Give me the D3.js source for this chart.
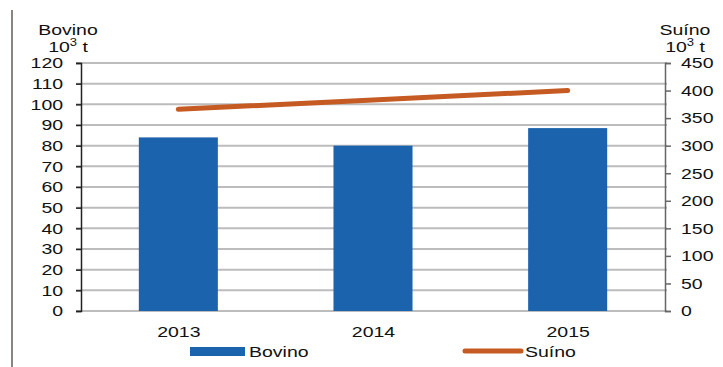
<!DOCTYPE html>
<html>
<head>
<meta charset="utf-8">
<script src="https://cdn.jsdelivr.net/npm/d3@7"></script>
<style>
  body { margin: 0; background: #fff; }
  text { font-family: "Liberation Sans", Arial, sans-serif; fill: #111; }
</style>
</head>
<body>
<div id="chart"></div>
<script>
var width = 723, height = 367;

var years = ["2013", "2014", "2015"];
var bovino = [84, 80, 88.5];
var suino = [366, 383, 400];
var leftTicks = [0, 10, 20, 30, 40, 50, 60, 70, 80, 90, 100, 110, 120];
var rightTicks = [0, 50, 100, 150, 200, 250, 300, 350, 400, 450];

var plotLeft = 81, plotRight = 665, plotTop = 63, plotBottom = 311;
var sx = 1.3; // text in the picture is stretched sideways

var svg = d3.select("#chart").append("svg")
    .attr("width", width)
    .attr("height", height);

// frame line at left
svg.append("line")
    .attr("x1", 12).attr("x2", 12)
    .attr("y1", 10).attr("y2", height)
    .attr("stroke", "#8a8580").attr("stroke-width", 2);

var xScale = d3.scaleBand()
    .domain(years)
    .range([plotLeft, plotRight])
    .paddingInner(0.594)
    .paddingOuter(0.297);

var xPoint = d3.scalePoint()
    .domain(years)
    .range([plotLeft, plotRight])
    .padding(0.5);

var yLeft = d3.scaleLinear().domain([0, 120]).range([plotBottom, plotTop]);
var yRight = d3.scaleLinear().domain([0, 450]).range([plotBottom, plotTop]);

// gridlines
svg.append("g")
    .selectAll("line")
    .data(leftTicks)
    .enter()
    .append("line")
    .attr("x1", plotLeft - 5).attr("x2", plotRight + 2)
    .attr("y1", function(d) { return yLeft(d); })
    .attr("y2", function(d) { return yLeft(d); })
    .attr("stroke", "#bcbcbc").attr("stroke-width", 2);

// bars
svg.selectAll("rect.bar")
    .data(bovino)
    .enter()
    .append("rect")
    .attr("class", "bar")
    .attr("x", function(d, i) { return xScale(years[i]); })
    .attr("y", function(d) { return yLeft(d); })
    .attr("width", xScale.bandwidth())
    .attr("height", function(d) { return plotBottom - yLeft(d); })
    .attr("fill", "#1b63ad");

// line
var valueLine = d3.line()
    .x(function(d, i) { return xPoint(years[i]); })
    .y(function(d) { return yRight(d); });

svg.append("path")
    .attr("d", valueLine(suino))
    .attr("fill", "none")
    .attr("stroke", "#c55a22")
    .attr("stroke-width", 5)
    .attr("stroke-linecap", "round");

// axes
var axL = svg.append("g")
    .attr("transform", "translate(" + plotLeft + ",0)")
    .call(d3.axisLeft(yLeft).tickValues(leftTicks).tickSize(5).tickPadding(8.8));

var axR = svg.append("g")
    .attr("transform", "translate(" + plotRight + ",0)")
    .call(d3.axisRight(yRight).tickValues(rightTicks).tickSize(6).tickPadding(6.3));

var axB = svg.append("g")
    .attr("transform", "translate(0," + plotBottom + ")")
    .call(d3.axisBottom(xPoint).tickSize(0).tickPadding(15));
axB.select(".domain").remove();

[axL, axR, axB].forEach(function(a) {
  a.selectAll("text").attr("font-size", 15).attr("fill", "#111")
    .attr("transform", "scale(" + sx + ",1)")
    .style("font-family", "'Liberation Sans', Arial, sans-serif");
});
axL.selectAll(".domain, .tick line").attr("stroke", "#222").attr("stroke-width", 1.5);
axR.selectAll(".domain, .tick line").attr("stroke", "#666").attr("stroke-width", 1.5);

function label(x, y, anchor) {
  return svg.append("text")
      .attr("transform", "translate(" + x + "," + y + ") scale(" + sx + ",1)")
      .attr("text-anchor", anchor)
      .attr("font-size", 15);
}

// axis titles
function unitTitle(x, name) {
  label(x, 35, "middle").text(name);
  var t = label(x, 52, "middle");
  t.append("tspan").text("10");
  t.append("tspan").attr("font-size", 10).attr("dy", -6).text("3");
  t.append("tspan").attr("dy", 6).text(" t");
}
unitTitle(68, "Bovino");
unitTitle(685, "Suíno");

// legend
svg.append("rect")
    .attr("x", 190).attr("y", 347).attr("width", 55).attr("height", 9)
    .attr("fill", "#1b63ad");
label(249, 357, "start").text("Bovino");

svg.append("line")
    .attr("x1", 465).attr("x2", 521).attr("y1", 351).attr("y2", 351)
    .attr("stroke", "#c55a22").attr("stroke-width", 5).attr("stroke-linecap", "round");
label(525, 357, "start").text("Suíno");
</script>
</body>
</html>
